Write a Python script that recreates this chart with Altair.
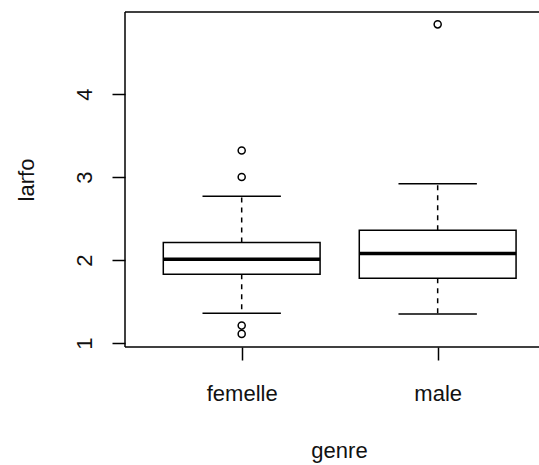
import altair as alt
import pandas as pd

# ---- data ----
genre = ["femelle", "male"]
position = [1, 2]
lower_whisker = [1.36, 1.35]
q1 = [1.83, 1.78]
median = [2.01, 2.08]
q3 = [2.21, 2.36]
upper_whisker = [2.77, 2.92]

outlier_genre = ["femelle", "femelle", "femelle", "femelle", "male"]
outlier_value = [3.32, 3.00, 1.21, 1.11, 4.84]

y_ticks = [1, 2, 3, 4]

# ---- tables ----
stats = pd.DataFrame({
    "genre": genre, "pos": position, "lo": lower_whisker, "q1": q1,
    "med": median, "q3": q3, "hi": upper_whisker,
})
pos_of = dict(zip(genre, position))
outs = pd.DataFrame({
    "genre": outlier_genre,
    "pos": [pos_of[g] for g in outlier_genre],
    "value": outlier_value,
})

W, H = 414, 335
FONT = "Liberation Sans"
FS = 22

label_expr = " : ".join(
    [f"datum.value == {p} ? '{g}'" for p, g in zip(position, genre)]
) + " : ''"

xscale = alt.Scale(domain=[0.4046, 2.517], nice=False, zero=False)
yscale = alt.Scale(domain=[0.952, 4.989], nice=False, zero=False)

x_axis = alt.Axis(
    values=position, labelExpr=label_expr, title="genre",
    domain=False, grid=False, ticks=True, tickSize=13, tickWidth=1.5,
    tickColor="black", labelFont=FONT, labelFontSize=FS, labelColor="#111111",
    labelBaseline="alphabetic", labelPadding=40, labelAngle=0,
    titleFont=FONT, titleFontSize=FS, titleFontWeight="normal",
    titleColor="#111111", titleBaseline="alphabetic", titleY=110,
    titleX=214, titleAlign="center",
)
y_axis = alt.Axis(
    values=y_ticks, format="d", title="larfo",
    domain=False, grid=False, ticks=True, tickSize=13, tickWidth=1.5,
    tickColor="black", labelFont=FONT, labelFontSize=FS, labelColor="#111111",
    labelAngle=270, labelAlign="center", labelBaseline="alphabetic",
    labelPadding=21,
    titleFont=FONT, titleFontSize=FS, titleFontWeight="normal",
    titleColor="#111111", titleAngle=270, titleAlign="center",
    titleBaseline="alphabetic", titleX=-92, titleY=H / 2,
)

base = alt.Chart(stats).transform_calculate(
    bx0="datum.pos - 0.4", bx1="datum.pos + 0.4",
    cx0="datum.pos - 0.2", cx1="datum.pos + 0.2",
)

whisker_up = base.mark_rule(color="black", strokeWidth=1.5, strokeDash=[5, 5]).encode(
    x=alt.X("pos:Q", scale=xscale, axis=x_axis),
    y=alt.Y("q3:Q", scale=yscale, axis=y_axis),
    y2="hi:Q",
)
whisker_lo = base.mark_rule(color="black", strokeWidth=1.5, strokeDash=[5, 5]).encode(
    x=alt.X("pos:Q", scale=xscale),
    y=alt.Y("q1:Q", scale=yscale),
    y2="lo:Q",
)
cap_hi = base.mark_rule(color="black", strokeWidth=1.5).encode(
    x=alt.X("cx0:Q", scale=xscale), x2="cx1:Q",
    y=alt.Y("hi:Q", scale=yscale),
)
cap_lo = base.mark_rule(color="black", strokeWidth=1.5).encode(
    x=alt.X("cx0:Q", scale=xscale), x2="cx1:Q",
    y=alt.Y("lo:Q", scale=yscale),
)
box = base.mark_rect(fill="white", stroke="black", strokeWidth=1.5).encode(
    x=alt.X("bx0:Q", scale=xscale), x2="bx1:Q",
    y=alt.Y("q1:Q", scale=yscale), y2="q3:Q",
)
med = base.mark_rule(color="black", strokeWidth=3.5).encode(
    x=alt.X("bx0:Q", scale=xscale), x2="bx1:Q",
    y=alt.Y("med:Q", scale=yscale),
)
points = alt.Chart(outs).mark_point(
    shape="circle", filled=False, color="black", strokeWidth=1.5, size=50, opacity=1
).encode(
    x=alt.X("pos:Q", scale=xscale),
    y=alt.Y("value:Q", scale=yscale),
)

frame_df = pd.DataFrame({"k": [0]})
frame_top = alt.Chart(frame_df).mark_rule(color="black", strokeWidth=1.5).encode(
    x=alt.value(0), x2=alt.value(W + 5), y=alt.value(0))
frame_bot = alt.Chart(frame_df).mark_rule(color="black", strokeWidth=1.5).encode(
    x=alt.value(0), x2=alt.value(W + 5), y=alt.value(H))
frame_left = alt.Chart(frame_df).mark_rule(color="black", strokeWidth=1.5).encode(
    x=alt.value(0), y=alt.value(0), y2=alt.value(H))

chart = alt.layer(
    whisker_up, whisker_lo, cap_hi, cap_lo, box, med, points,
    frame_top, frame_bot, frame_left,
).properties(
    width=W, height=H,
    padding={"left": 125, "top": 12, "right": 0, "bottom": 118},
    autosize=alt.AutoSizeParams(type="none"),
    background="white",
).configure_view(stroke=None)

chart.save("out.html", embed_options={"renderer": "svg", "actions": False})
